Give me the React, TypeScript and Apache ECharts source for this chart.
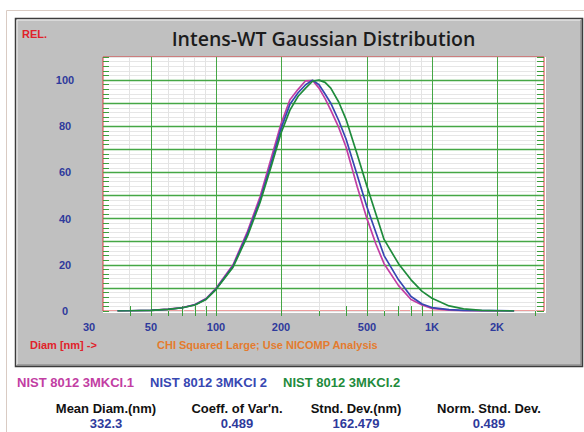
import React, { useEffect, useRef } from "react";
import * as echarts from "echarts";

// ---- data ----
const diameters = [35, 40, 50, 60, 70, 80, 90, 100, 120, 140, 160, 180, 200, 220, 240, 260, 280, 300, 320, 340, 370, 400, 450, 500, 550, 600, 700, 800, 900, 1000, 1200, 1400, 1700, 2000, 2400];
const nistA = [0, 0.1, 0.3, 0.8, 1.5, 2.8, 5.4, 9.8, 20, 34.5, 49.5, 66, 81, 91.5, 96, 99.7, 99.8, 96.5, 92, 87, 79.5, 71, 54, 40, 29, 20.5, 11, 5, 2.6, 1.1, 0.4, 0.1, 0, 0, 0];
const nistB = [0.1, 0.1, 0.3, 0.7, 1.4, 2.7, 5.2, 9.5, 19.5, 33.5, 48, 64, 79, 89.5, 94.5, 98, 100, 98, 94, 90, 82.5, 74.5, 59, 45, 34, 24, 13.5, 6.3, 3.0, 1.5, 0.6, 0.3, 0.2, 0.2, 0];
const nistC = [0, 0.1, 0.3, 0.7, 1.4, 2.6, 5.0, 9.3, 19, 32.5, 47, 62.5, 77, 87, 93, 96.5, 99.5, 100, 99, 96.5, 90.5, 83, 68, 54, 42, 31, 20.5, 13.5, 8.5, 5.5, 2.2, 0.9, 0.3, 0.1, 0];
const seriesNames = ["NIST 8012 3MKCI.1", "NIST 8012 3MKCI 2", "NIST 8012 3MKCI.2"];
const seriesValues = [nistA, nistB, nistC];
const seriesColors = ["#c23ea3", "#3747b2", "#1f8b3c"];

const xLabelValues = [30, 50, 100, 200, 500, 1000, 2000];
const xLabelTexts = ["30", "50", "100", "200", "500", "1K", "2K"];
const xTickValues = [40, 50, 60, 70, 80, 90, 100, 200, 300, 400, 500, 600, 700, 800, 900, 1000, 2000, 3000];
const xMajorGrid = [50, 100, 200, 500, 1000, 2000];
const xMinorGrid = [40, 60, 70, 80, 90, 300, 400, 600, 700, 800, 900, 3000];
const yMajorGrid = [10, 20, 30, 40, 50, 60, 70, 80, 90, 100];
const yLabelStep = 20;

const statHeaders = ["Mean Diam.(nm)", "Coeff. of Var'n.", "Stnd. Dev.(nm)", "Norm. Stnd. Dev."];
const statValues = ["332.3", "0.489", "162.479", "0.489"];

const X_MIN = 30;
const X_MAX = 3300;
const Y_MAX = 110;

const FONT = "'Liberation Sans', Arial, sans-serif";
const GREEN = "#45a745";
const TICK_GREEN = "#3c9f3c";
const AXIS_BLUE = "#2e3a9c";

const lg = (v: number) => Math.log10(v);

function txt(text: string, x: number, y: number, color: string, size: number, weight: string, align = "left", family = FONT) {
  return {
    type: "text",
    x,
    y,
    silent: true,
    z: 20,
    style: {
      text,
      fill: color,
      font: `${weight} ${size}px ${family}`,
      textAlign: align,
      textVerticalAlign: "middle",
      align,
      verticalAlign: "middle",
    },
  };
}

export default function App() {
  const ref = useRef<HTMLDivElement>(null);

  useEffect(() => {
    if (!ref.current) return;
    const chart = echarts.init(ref.current, undefined, { renderer: "svg" });

    const statCenters = [106, 237, 356, 489];

    const graphicEls: any[] = [
      {
        type: "rect",
        z: -100,
        silent: true,
        shape: { x: 6.5, y: 10.5, width: 620, height: 500 },
        style: { fill: "#ffffff", stroke: "#d9cbc3", lineWidth: 1 },
      },
      {
        type: "rect",
        z: -90,
        silent: true,
        shape: { x: 15.5, y: 18.5, width: 567, height: 348 },
        style: { fill: "#c0c0c0", stroke: "#3c3c3c", lineWidth: 1.5 },
      },
      {
        type: "polyline",
        z: -89,
        silent: true,
        shape: { points: [[17, 365], [17, 20], [581, 20]] },
        style: { fill: null, stroke: "#f2f2f2", lineWidth: 1 },
      },
      {
        type: "polyline",
        z: -89,
        silent: true,
        shape: { points: [[17, 365], [581, 365], [581, 20]] },
        style: { fill: null, stroke: "#7a7a7a", lineWidth: 1 },
      },
      {
        type: "rect",
        z: -80,
        silent: true,
        shape: { x: 103, y: 57, width: 443, height: 256 },
        style: { fill: "#ffffff" },
      },
      txt("Intens-WT Gaussian Distribution", 323.5, 38.5, "#1c1c1c", 19.5, "600", "center", "'Open Sans', 'Noto Sans', sans-serif"),
      txt("REL.", 22, 33.5, "#e0222a", 11, "bold"),
      txt("Diam [nm] ->", 30, 345, "#e0222a", 11, "bold"),
      txt("CHI Squared Large; Use NICOMP Analysis", 157, 345, "#e47b2e", 11, "bold"),
    ];
    statHeaders.forEach((h, i) => {
      graphicEls.push(txt(h, statCenters[i], 408, "#111111", 13, "bold", "center"));
      graphicEls.push(txt(statValues[i], statCenters[i], 423.5, AXIS_BLUE, 13, "bold", "center"));
    });

    const gridLineData: any[] = [
      ...xMinorGrid.map((v) => ({ xAxis: lg(v), lineStyle: { color: "#e3e3e3", width: 1, type: "solid" } })),
      ...xMajorGrid.map((v) => ({ xAxis: lg(v), lineStyle: { color: GREEN, width: 1, type: "solid" } })),
      ...yMajorGrid.map((v) => ({ yAxis: v, lineStyle: { color: GREEN, width: 1.3, type: "solid" } })),
    ];

    const lineSeries = seriesNames.map((name, i) => ({
      name,
      type: "line",
      xAxisIndex: 0,
      yAxisIndex: 0,
      data: diameters.map((d, j) => [lg(d), seriesValues[i][j]]),
      showSymbol: false,
      symbol: "none",
      smooth: false,
      clip: true,
      z: 5,
      lineStyle: { color: seriesColors[i], width: 1.7 },
      itemStyle: { color: seriesColors[i] },
    }));

    const option: any = {
      animation: false,
      backgroundColor: "transparent",
      grid: {
        left: 103,
        top: 57,
        width: 441,
        height: 254,
        show: true,
        backgroundColor: "#ffffff",
        borderColor: "#d93a3a",
        borderWidth: 1,
        containLabel: false,
      },
      legend: {
        left: 7,
        top: 370,
        icon: "rect",
        itemWidth: 0,
        itemHeight: 14,
        itemGap: 11,
        selectedMode: false,
        itemStyle: { opacity: 0 },
        textStyle: { fontSize: 13, fontWeight: "bold", fontFamily: FONT },
        data: seriesNames.map((n, i) => ({ name: n, textStyle: { color: seriesColors[i] } })),
      },
      xAxis: [
        {
          type: "value",
          position: "bottom",
          min: lg(X_MIN),
          max: lg(X_MAX),
          axisLine: { show: false },
          axisTick: {
            show: true,
            inside: true,
            length: 5,
            customValues: xTickValues.map(lg),
            lineStyle: { color: TICK_GREEN, width: 1 },
          },
          axisLabel: {
            customValues: xLabelValues.map(lg),
            margin: 10,
            color: AXIS_BLUE,
            fontWeight: "bold",
            fontSize: 11,
            fontFamily: FONT,
            formatter: (v: number) => {
              let best = 0;
              let bd = Infinity;
              xLabelValues.forEach((lv, k) => {
                const dd = Math.abs(lg(lv) - v);
                if (dd < bd) {
                  bd = dd;
                  best = k;
                }
              });
              return best === 0 ? `{s|${xLabelTexts[0]}}` : xLabelTexts[best];
            },
            rich: { s: { padding: [0, 28, 0, 0], color: AXIS_BLUE, fontWeight: "bold", fontSize: 11, fontFamily: FONT } },
          },
          splitLine: { show: false },
        },
        {
          type: "value",
          position: "top",
          min: lg(X_MIN),
          max: lg(X_MAX),
          axisLine: { show: false },
          axisTick: {
            show: true,
            inside: true,
            length: 5,
            customValues: xTickValues.map(lg),
            lineStyle: { color: TICK_GREEN, width: 1 },
          },
          axisLabel: { show: false },
          splitLine: { show: false },
        },
      ],
      yAxis: [
        {
          type: "value",
          position: "left",
          min: 0,
          max: Y_MAX,
          interval: 2,
          axisLine: { show: false },
          axisTick: { show: true, inside: true, length: 6, lineStyle: { color: TICK_GREEN, width: 1 } },
          axisLabel: {
            formatter: (v: number) => (v % yLabelStep === 0 && v <= 100 ? String(v) : ""),
            color: AXIS_BLUE,
            fontWeight: "bold",
            fontSize: 11,
            fontFamily: FONT,
            margin: 38,
            align: "center",
          },
          splitLine: { show: true, lineStyle: { color: "#e6e6e6", width: 1 } },
        },
        {
          type: "value",
          position: "right",
          min: 0,
          max: Y_MAX,
          interval: 2,
          axisLine: { show: false },
          axisTick: { show: true, inside: true, length: 7, lineStyle: { color: TICK_GREEN, width: 1 } },
          axisLabel: { show: false },
          splitLine: { show: false },
        },
      ],
      graphic: { elements: graphicEls },
      series: [
        {
          name: "grid-lines",
          type: "line",
          xAxisIndex: 0,
          yAxisIndex: 0,
          data: [[lg(X_MIN), 0]],
          showSymbol: false,
          symbol: "none",
          silent: true,
          z: 1,
          lineStyle: { opacity: 0 },
          markLine: {
            silent: true,
            symbol: ["none", "none"],
            label: { show: false },
            animation: false,
            data: gridLineData,
          },
        },
        ...lineSeries,
      ],
    };

    chart.setOption(option);
    return () => {
      chart.dispose();
    };
  }, []);

  return (
    <div
      ref={ref}
      style={{ position: "fixed", left: 0, top: 0, width: 584, height: 432, background: "#ffffff" }}
    />
  );
}
